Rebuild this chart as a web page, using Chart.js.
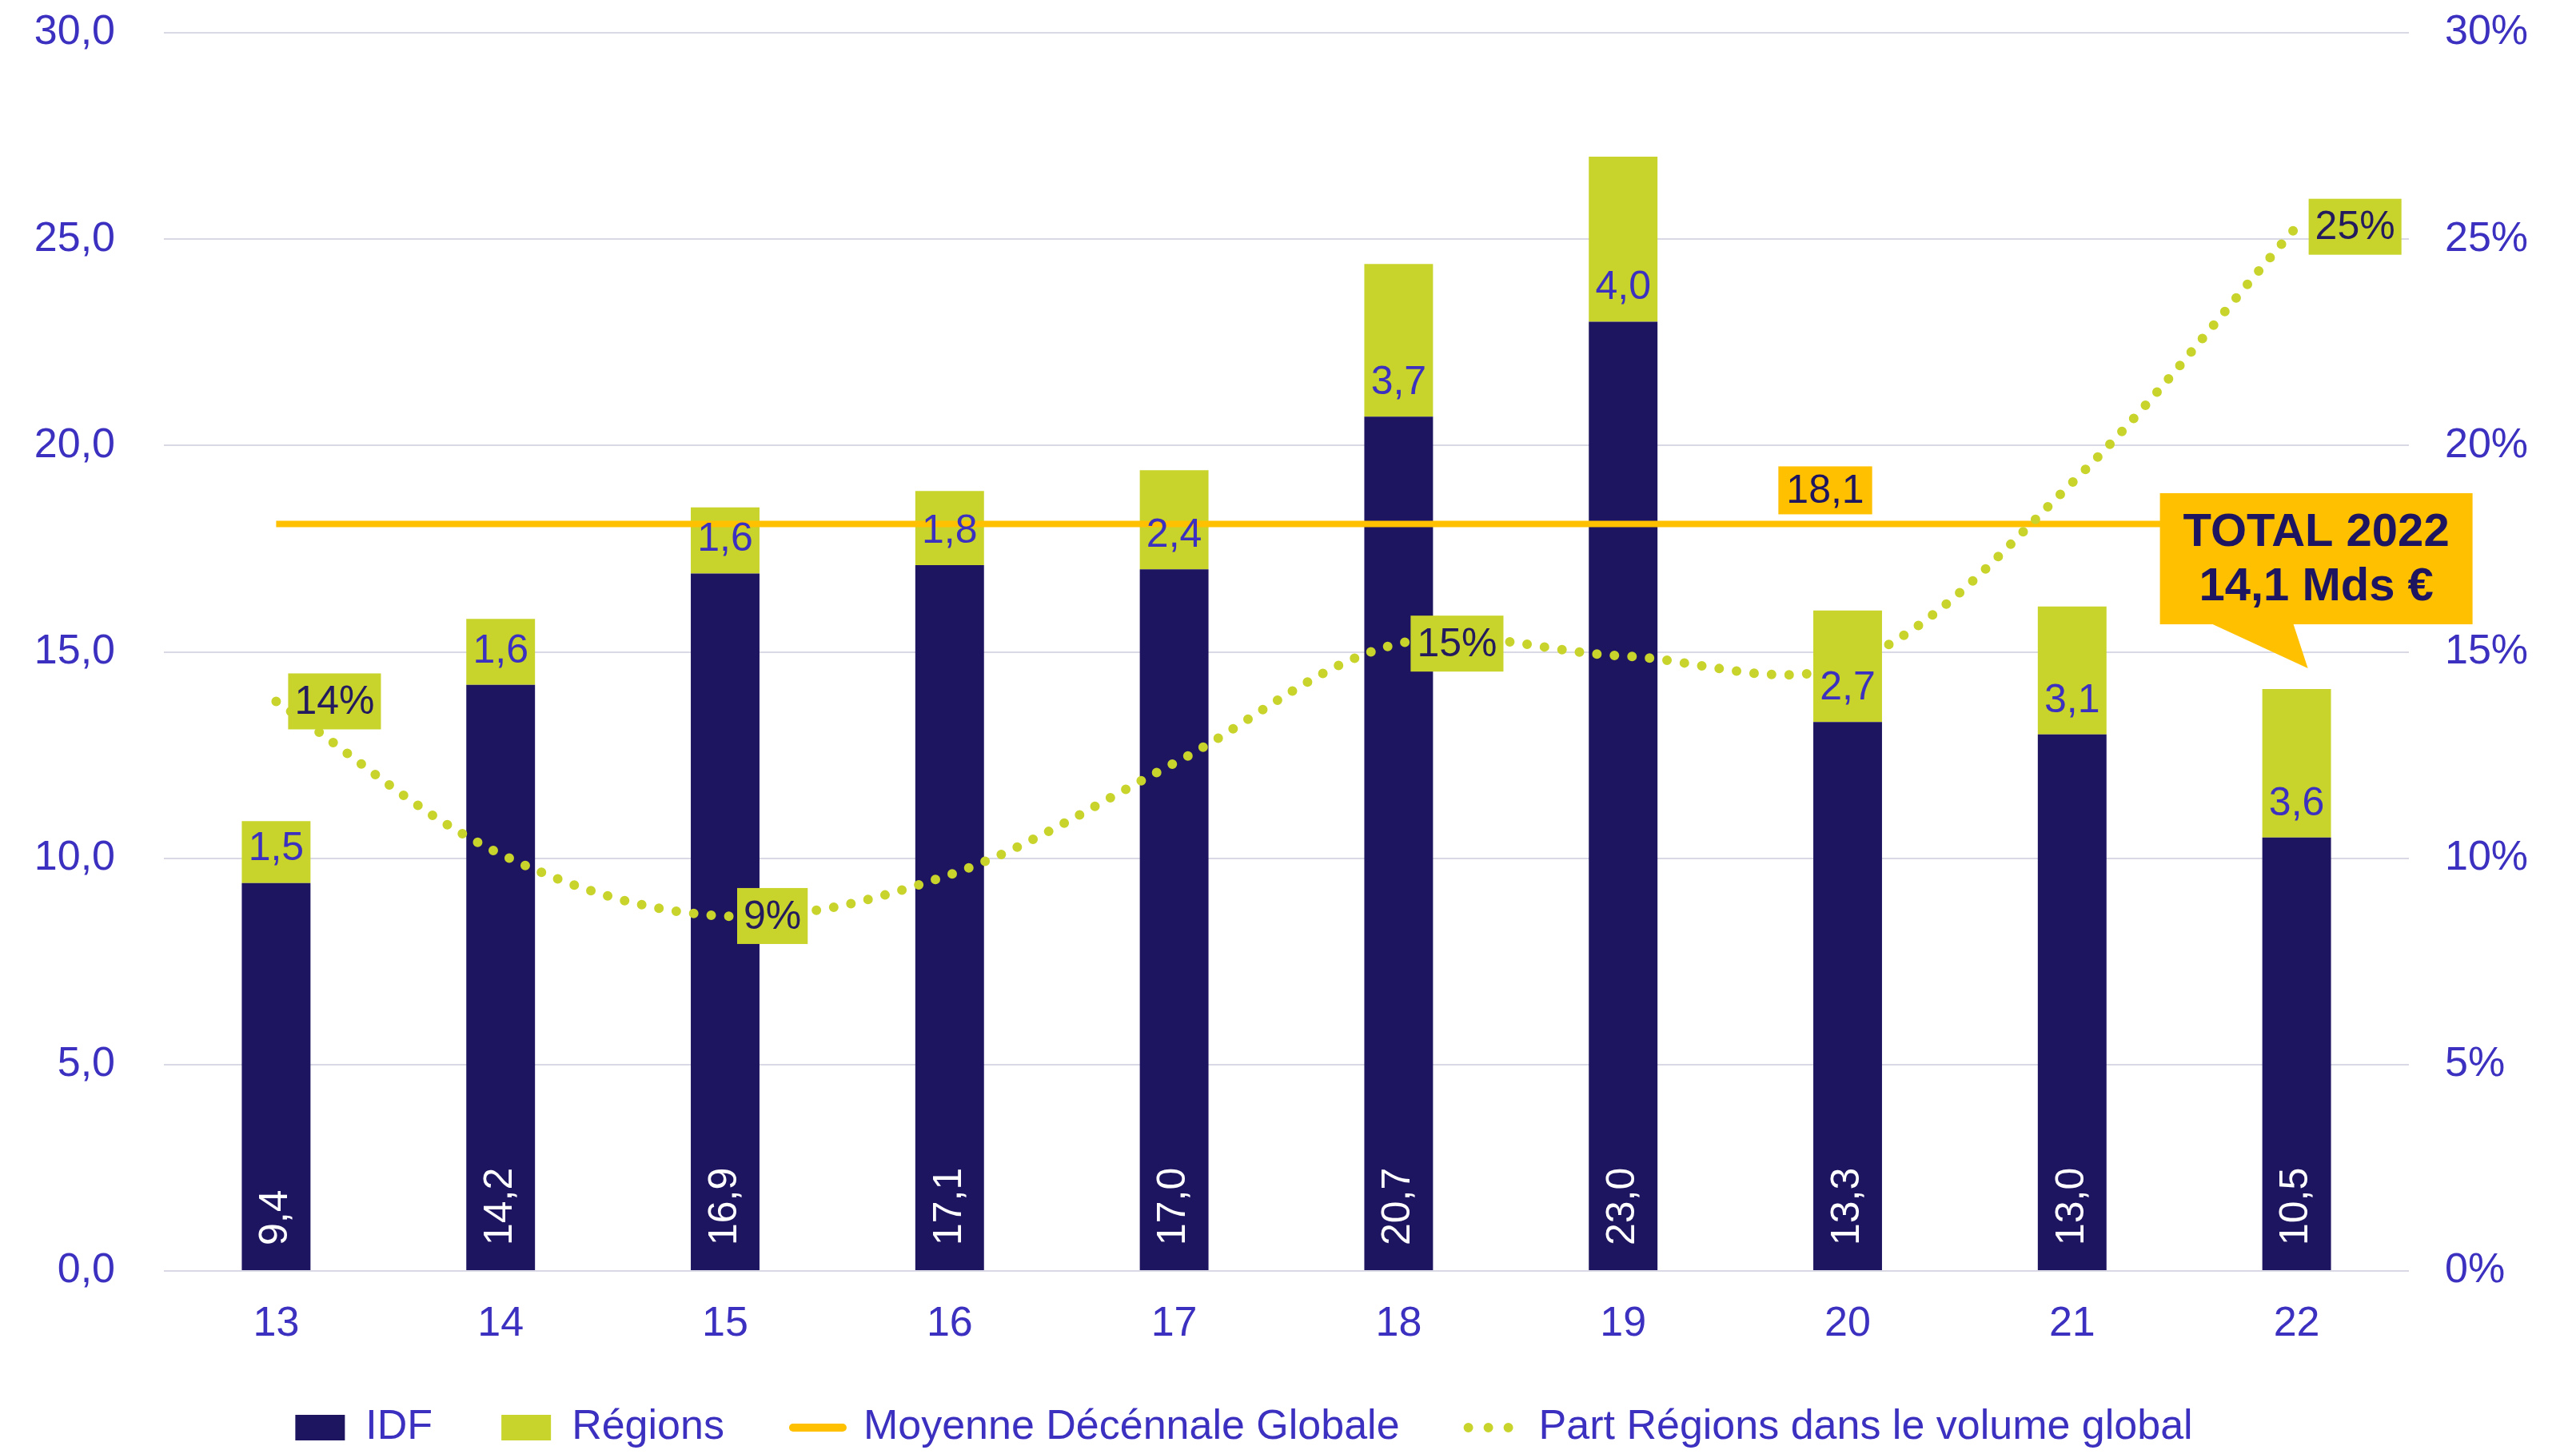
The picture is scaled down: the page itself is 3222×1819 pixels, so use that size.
<!DOCTYPE html>
<html>
<head>
<meta charset="utf-8">
<title>Volume investi IDF / Régions</title>
<script src="https://cdn.jsdelivr.net/npm/chart.js"></script>
<style>
    html, body { margin: 0; padding: 0; background: #ffffff; }
    #wrap { width: 3222px; height: 1819px; position: relative; }
</style>
</head>
<body>
<div id="wrap"><canvas id="myChart"></canvas></div>
<script>
// Data
const categories = ["13", "14", "15", "16", "17", "18", "19", "20", "21", "22"];
const idfValues = [9.4, 14.2, 16.9, 17.1, 17.0, 20.7, 23.0, 13.3, 13.0, 10.5];
const regionValues = [1.5, 1.6, 1.6, 1.8, 2.4, 3.7, 4.0, 2.7, 3.1, 3.6];
const shareValues = [13.8, 10.1, 8.6, 9.6, 12.3, 15.2, 14.9, 14.7, 19.1, 25.3];
const shareLabelled = [0, 2, 5, 9];
const averageValue = 18.1;
const leftTicks = [0, 5, 10, 15, 20, 25, 30];
const rightTicks = [0, 5, 10, 15, 20, 25, 30];
const calloutTitle = "TOTAL 2022";

const NAVY = "#1e1560";
const GREEN = "#c8d42b";
const ORANGE = "#ffc000";
const TEXT = "#3b30bf";
const FONT = "'Liberation Sans', Arial, sans-serif";

const fmt = v => v.toFixed(1).replace(".", ",");

// labels, boxes and the callout drawn on top of the datasets
const labelPlugin = {
    id: "labels",
    afterLayout(chart) {
        // legend sits a bit left of centre in the original
        chart.legend.left -= 55;
        chart.legend.right -= 55;
    },
    afterDatasetsDraw(chart) {
        const ctx = chart.ctx;
        const x = chart.scales.x;
        const y = chart.scales.y;
        const y1 = chart.scales.y1;
        const base = y.getPixelForValue(0);
        ctx.save();

        // IDF values, white, rotated at the foot of the bars
        ctx.font = "50px " + FONT;
        ctx.fillStyle = "#ffffff";
        ctx.textAlign = "left";
        ctx.textBaseline = "middle";
        idfValues.forEach((v, i) => {
            ctx.save();
            ctx.translate(x.getPixelForValue(i), base - 32);
            ctx.rotate(-Math.PI / 2);
            ctx.fillText(fmt(v), 0, 0);
            ctx.restore();
        });

        // Régions values at the bottom of the green segments
        ctx.fillStyle = TEXT;
        ctx.textAlign = "center";
        regionValues.forEach((v, i) => {
            ctx.fillText(fmt(v), x.getPixelForValue(i), y.getPixelForValue(idfValues[i]) - 42);
        });

        // share labels in green boxes
        ctx.textAlign = "left";
        shareLabelled.forEach(i => {
            const txt = Math.round(shareValues[i]) + "%";
            const px = x.getPixelForValue(i) + 15;
            const py = y1.getPixelForValue(shareValues[i]);
            const w = ctx.measureText(txt).width + 16;
            ctx.fillStyle = GREEN;
            ctx.fillRect(px, py - 35, w, 70);
            ctx.fillStyle = "#231b5e";
            ctx.fillText(txt, px + 8, py + 2);
        });

        // average label
        const avgTxt = fmt(averageValue);
        const ax = x.getPixelForValue(7) - 28;
        const ay = y.getPixelForValue(averageValue) - 42;
        const aw = ctx.measureText(avgTxt).width + 20;
        ctx.fillStyle = ORANGE;
        ctx.fillRect(ax - aw / 2, ay - 30, aw, 60);
        ctx.fillStyle = NAVY;
        ctx.textAlign = "center";
        ctx.fillText(avgTxt, ax, ay + 2);

        // callout for the last year
        const last = categories.length - 1;
        const total = idfValues[last] + regionValues[last];
        const tipX = x.getPixelForValue(last) + 14;
        const tipY = y.getPixelForValue(total) - 26;
        const left = tipX - 185, right = tipX + 206;
        const top = tipY - 219, bottom = tipY - 55;
        ctx.fillStyle = ORANGE;
        ctx.beginPath();
        ctx.moveTo(left, top);
        ctx.lineTo(right, top);
        ctx.lineTo(right, bottom);
        ctx.lineTo(tipX - 18, bottom);
        ctx.lineTo(tipX, tipY);
        ctx.lineTo(tipX - 119, bottom);
        ctx.lineTo(left, bottom);
        ctx.closePath();
        ctx.fill();
        ctx.fillStyle = NAVY;
        ctx.font = "bold 58px " + FONT;
        const cx = (left + right) / 2;
        const cy = (top + bottom) / 2;
        ctx.fillText(calloutTitle, cx, cy - 32);
        ctx.fillText(fmt(total) + " Mds €", cx, cy + 36);

        ctx.restore();
    }
};

const ctx = document.getElementById("myChart").getContext("2d");
new Chart(ctx, {
    data: {
        labels: categories,
        datasets: [
            {
                type: "bar",
                label: "IDF",
                data: idfValues,
                backgroundColor: NAVY,
                stack: "vol",
                order: 2,
                barPercentage: 0.306,
                categoryPercentage: 1
            },
            {
                type: "bar",
                label: "Régions",
                data: regionValues,
                backgroundColor: GREEN,
                stack: "vol",
                order: 2,
                barPercentage: 0.306,
                categoryPercentage: 1
            },
            {
                type: "line",
                label: "Moyenne Décénnale Globale",
                data: categories.map(() => averageValue),
                borderColor: ORANGE,
                backgroundColor: ORANGE,
                borderWidth: 8,
                pointRadius: 0,
                stack: "avg",
                order: 1
            },
            {
                type: "line",
                label: "Part Régions dans le volume global",
                data: shareValues,
                yAxisID: "y1",
                borderColor: GREEN,
                backgroundColor: GREEN,
                borderWidth: 12,
                borderDash: [0, 22],
                borderCapStyle: "round",
                tension: 0.35,
                pointRadius: 0,
                stack: "share",
                order: 0
            }
        ]
    },
    options: {
        responsive: true,
        maintainAspectRatio: false,
        animation: false,
        layout: { padding: { top: 41, left: 0, right: 0, bottom: -3 } },
        plugins: {
            tooltip: { enabled: false },
            legend: {
                position: "bottom",
                labels: {
                    usePointStyle: true,
                    pointStyleWidth: 62,
                    boxHeight: 32,
                    padding: 86,
                    color: TEXT,
                    font: { family: FONT, size: 52 },
                    generateLabels(chart) {
                        const items = Chart.defaults.plugins.legend.labels.generateLabels(chart);
                        items.sort((a, b) => a.datasetIndex - b.datasetIndex);
                        items.forEach(it => {
                            const ds = chart.data.datasets[it.datasetIndex];
                            if (ds.type === "line") {
                                it.pointStyle = "line";
                                it.strokeStyle = ds.borderColor;
                                it.lineCap = "round";
                                it.lineWidth = it.datasetIndex === 3 ? 12 : 10;
                                it.lineDash = it.datasetIndex === 3 ? [0, 25] : [];
                            } else {
                                it.pointStyle = "rect";
                                it.lineWidth = 0;
                            }
                        });
                        return items;
                    }
                }
            }
        },
        scales: {
            x: {
                stacked: true,
                grid: { display: false },
                border: { display: false },
                ticks: { color: TEXT, font: { family: FONT, size: 52 }, padding: 27 },
                afterFit(s) { s.height = 84; }
            },
            y: {
                stacked: true,
                min: 0,
                max: 30,
                position: "left",
                border: { display: false },
                grid: { color: "#d9d9e5", lineWidth: 2, drawTicks: false },
                afterBuildTicks(s) { s.ticks = leftTicks.map(v => ({ value: v })); },
                ticks: {
                    color: TEXT,
                    font: { family: FONT, size: 52 },
                    padding: 61,
                    callback: v => fmt(v)
                },
                afterFit(s) { s.width = 205; s.paddingTop = 0; s.paddingBottom = 0; }
            },
            y1: {
                min: 0,
                max: 30,
                position: "right",
                border: { display: false },
                grid: { display: false, drawTicks: false },
                afterBuildTicks(s) { s.ticks = rightTicks.map(v => ({ value: v })); },
                ticks: {
                    color: TEXT,
                    font: { family: FONT, size: 52 },
                    padding: 45,
                    callback: v => v + "%"
                },
                afterFit(s) { s.width = 209; s.paddingTop = 0; s.paddingBottom = 0; }
            }
        }
    },
    plugins: [labelPlugin]
});
</script>
</body>
</html>
